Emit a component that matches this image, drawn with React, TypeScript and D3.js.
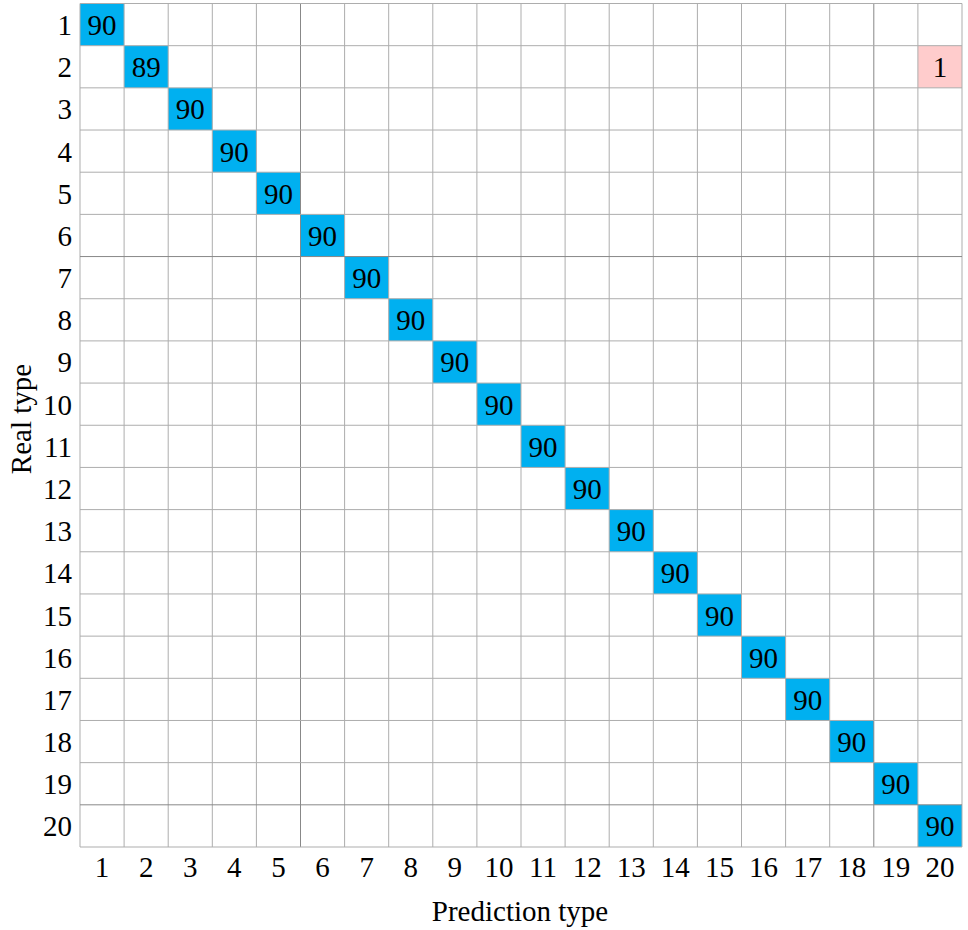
import React from "react";
import * as d3 from "d3";

const classes = d3.range(1, 21).map(String);
// confusion matrix diagonal counts (real == predicted)
const diagCounts = [90, 89, 90, 90, 90, 90, 90, 90, 90, 90, 90, 90, 90, 90, 90, 90, 90, 90, 90, 90];
// off-diagonal non-zero entries: [real, predicted, count]
const offDiag: [string, string, number][] = [["2", "20", 1]];

export default function App() {
  const W = 968, H = 930;
  const left = 80, right = 962, top = 3.5, bottom = 847;
  const x = d3.scaleBand().domain(classes).range([left, right]);
  const y = d3.scaleBand().domain(classes).range([top, bottom]);
  const cells: { r: string; p: string; v: number; color: string }[] = [];
  classes.forEach((c, i) => cells.push({ r: c, p: c, v: diagCounts[i], color: "#00b0f0" }));
  offDiag.forEach(([r, p, v]) => cells.push({ r, p, v, color: "#ffcccc" }));
  const font = "'Liberation Serif', 'Times New Roman', serif";
  const fs = 29;
  const off = 10.5;
  const darkV = new Set([5, 18]);
  const darkH = new Set([6, 19]);
  return (
    <svg width={W} height={H} style={{ position: "absolute", left: 0, top: 0 }}>
      <rect x={0} y={0} width={W} height={H} fill="#fff" />
      {cells.map((d) => (
        <rect key={d.r + "-" + d.p} x={x(d.p)!} y={y(d.r)!} width={x.bandwidth()} height={y.bandwidth()} fill={d.color} />
      ))}
      {d3.range(0, 21).map((i) => {
        const xx = left + i * x.bandwidth();
        return <line key={"v" + i} x1={xx} x2={xx} y1={top} y2={bottom} stroke={darkV.has(i) ? "#888" : "#adadad"} strokeWidth={1} />;
      })}
      {d3.range(0, 21).map((i) => {
        const yy = top + i * y.bandwidth();
        return <line key={"h" + i} x1={left} x2={right} y1={yy} y2={yy} stroke={darkH.has(i) ? "#888" : "#adadad"} strokeWidth={1} />;
      })}
      {cells.map((d) => (
        <text key={"t" + d.r + "-" + d.p} x={x(d.p)! + x.bandwidth() / 2} y={y(d.r)! + y.bandwidth() / 2 + off} textAnchor="middle" fontFamily={font} fontSize={fs} fill="#000">
          {d.v}
        </text>
      ))}
      {classes.map((c) => (
        <text key={"yl" + c} x={72} y={y(c)! + y.bandwidth() / 2 + off} textAnchor="end" fontFamily={font} fontSize={fs} fill="#000">
          {c}
        </text>
      ))}
      {classes.map((c) => (
        <text key={"xl" + c} x={x(c)! + x.bandwidth() / 2} y={877} textAnchor="middle" fontFamily={font} fontSize={fs} fill="#000">
          {c}
        </text>
      ))}
      <text x={520} y={921} textAnchor="middle" fontFamily={font} fontSize={fs} fill="#000">
        Prediction type
      </text>
      <text transform={`translate(31, 419) rotate(-90)`} textAnchor="middle" fontFamily={font} fontSize={fs} fill="#000">
        Real type
      </text>
    </svg>
  );
}
